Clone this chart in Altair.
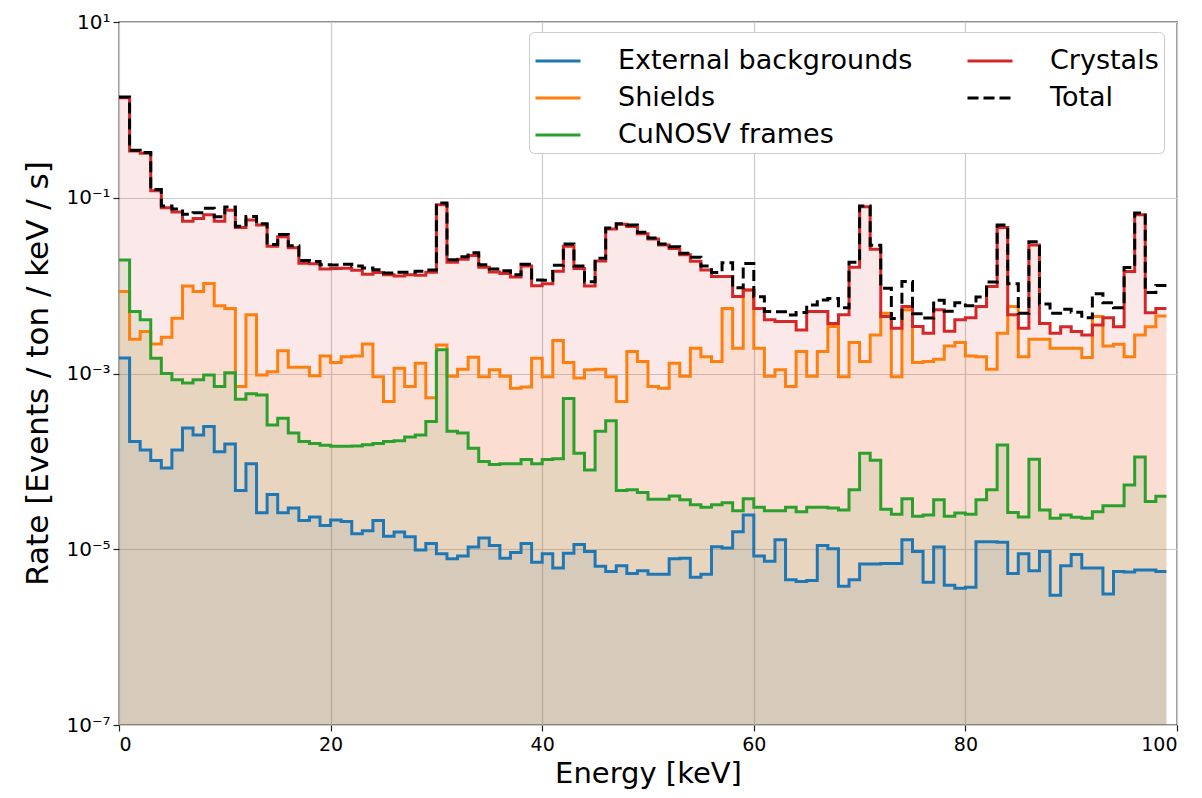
import altair as alt
import pandas as pd

# Energy bins: 1 keV wide, left edges 0..98 (last edge at 99 keV)
bin_left = list(range(0, 99))
bin_end = 99

external = [1.5e-3, 1.68e-4, 1.35e-4, 1.02e-4, 8.4e-5, 1.35e-4, 2.4e-4, 2.0e-4, 2.5e-4, 1.29e-4,
            1.58e-4, 4.65e-5, 9.4e-5, 2.6e-5, 4.2e-5, 2.6e-5, 2.95e-5, 2.12e-5, 2.33e-5, 1.86e-5,
            2.15e-5, 2.07e-5, 1.5e-5, 1.62e-5, 2.12e-5, 1.41e-5, 1.57e-5, 1.39e-5, 9.8e-6, 1.16e-5,
            8.9e-6, 7.8e-6, 8.4e-6, 1.06e-5, 1.34e-5, 1.1e-5, 7.9e-6, 9.2e-6, 1.16e-5, 7.1e-6,
            8.9e-6, 6.1e-6, 9.0e-6, 1.13e-5, 9.4e-6, 6.4e-6, 5.6e-6, 6.5e-6, 5.3e-6, 5.7e-6,
            5.2e-6, 5.2e-6, 7.8e-6, 7.9e-6, 4.8e-6, 5.2e-6, 1.07e-5, 1.03e-5, 1.58e-5, 2.45e-5,
            8.4e-6, 7.3e-6, 1.28e-5, 4.5e-6, 4.3e-6, 4.4e-6, 1.1e-5, 1.01e-5, 3.8e-6, 4.5e-6,
            6.8e-6, 6.8e-6, 6.9e-6, 6.9e-6, 1.28e-5, 9.4e-6, 4.2e-6, 1.06e-5, 3.9e-6, 3.6e-6,
            3.7e-6, 1.22e-5, 1.22e-5, 1.2e-5, 5.3e-6, 8.9e-6, 5.7e-6, 9.4e-6, 3.0e-6, 6.5e-6,
            8.7e-6, 6.1e-6, 6.1e-6, 3.1e-6, 5.6e-6, 5.5e-6, 5.8e-6, 5.8e-6, 5.6e-6]

shields = [8.55e-3, 2.45e-3, 3.0e-3, 2.17e-3, 2.59e-3, 4.25e-3, 9.9e-3, 8.55e-3, 1.06e-2, 5.9e-3,
           5.5e-3, 7.1e-4, 4.65e-3, 9.6e-4, 1.05e-3, 1.82e-3, 1.18e-3, 1.18e-3, 9.4e-4, 1.58e-3,
           1.33e-3, 1.55e-3, 1.58e-3, 2.17e-3, 9.2e-4, 4.8e-4, 1.15e-3, 7.1e-4, 1.31e-3, 5.3e-4,
           2.11e-3, 9.3e-4, 1.12e-3, 1.53e-3, 9.2e-4, 1.1e-3, 9.3e-4, 6.8e-4, 7.0e-4, 1.49e-3,
           9.2e-4, 2.37e-3, 1.33e-3, 8.9e-4, 1.1e-3, 1.12e-3, 9.2e-4, 4.8e-4, 1.78e-3, 1.37e-3,
           7.1e-4, 6.8e-4, 1.31e-3, 9.3e-4, 1.94e-3, 1.55e-3, 1.37e-3, 5.5e-3, 1.94e-3, 8.9e-3,
           1.94e-3, 9.3e-4, 1.1e-3, 7.1e-4, 1.78e-3, 9.3e-4, 1.78e-3, 3.42e-3, 9.2e-4, 2.25e-3,
           1.37e-3, 2.75e-3, 4.85e-3, 9.2e-4, 5.3e-3, 1.33e-3, 1.37e-3, 1.45e-3, 2.06e-3, 2.26e-3,
           1.58e-3, 1.55e-3, 1.12e-3, 2.88e-3, 5.8e-3, 1.55e-3, 2.45e-3, 2.45e-3, 1.94e-3, 1.94e-3,
           1.94e-3, 1.52e-3, 4.46e-3, 2.06e-3, 2.15e-3, 1.55e-3, 2.75e-3, 3.4e-3, 4.5e-3]

frames = [1.96e-2, 5.06e-3, 4.1e-3, 1.49e-3, 1.0e-3, 8.5e-4, 7.8e-4, 8.5e-4, 9.6e-4, 7.1e-4,
          1.02e-3, 5.1e-4, 5.9e-4, 5.7e-4, 2.6e-4, 3.1e-4, 2.1e-4, 1.68e-4, 1.6e-4, 1.53e-4,
          1.49e-4, 1.49e-4, 1.5e-4, 1.55e-4, 1.6e-4, 1.68e-4, 1.72e-4, 1.9e-4, 2.0e-4, 2.84e-4,
          1.86e-3, 2.2e-4, 2.1e-4, 1.41e-4, 1.0e-4, 9.2e-5, 9.4e-5, 9.4e-5, 1.05e-4, 9.4e-5,
          1.05e-4, 1.07e-4, 5.2e-4, 1.24e-4, 8.0e-5, 2.2e-4, 2.9e-4, 4.65e-5, 4.76e-5, 4.41e-5,
          3.71e-5, 3.71e-5, 4.03e-5, 3.66e-5, 3.2e-5, 3.01e-5, 3.2e-5, 3.38e-5, 2.74e-5, 3.75e-5,
          3.0e-5, 2.74e-5, 2.74e-5, 3.0e-5, 2.68e-5, 3.0e-5, 3.0e-5, 2.95e-5, 2.8e-5, 4.76e-5,
          1.24e-4, 1.03e-4, 2.85e-5, 2.51e-5, 3.75e-5, 2.38e-5, 2.45e-5, 3.65e-5, 2.38e-5, 2.59e-5,
          2.51e-5, 3.66e-5, 4.76e-5, 1.54e-4, 2.62e-5, 2.33e-5, 1.06e-4, 2.8e-5, 2.26e-5, 2.45e-5,
          2.32e-5, 2.26e-5, 2.68e-5, 3.12e-5, 3.12e-5, 5.4e-5, 1.12e-4, 3.49e-5, 4.0e-5]

crystals = [1.37, 0.34, 0.32, 0.12, 0.077, 0.069, 0.054, 0.058, 0.064, 0.054,
            0.072, 0.046, 0.056, 0.049, 0.028, 0.036, 0.027, 0.018, 0.0177, 0.0155,
            0.0157, 0.0158, 0.015, 0.0135, 0.0141, 0.0133, 0.0129, 0.0133, 0.0131, 0.0142,
            0.083, 0.0185, 0.020, 0.022, 0.0162, 0.0143, 0.0137, 0.0125, 0.0167, 0.0100,
            0.0105, 0.0146, 0.028, 0.0157, 0.0099, 0.0191, 0.044, 0.050, 0.047, 0.039,
            0.034, 0.029, 0.0264, 0.0224, 0.019, 0.0151, 0.0127, 0.0127, 0.0075, 0.0089,
            0.0055, 0.0041, 0.0039, 0.0039, 0.00313, 0.00506, 0.00506, 0.0037, 0.00465, 0.0162,
            0.079, 0.026, 0.00446, 0.00327, 0.00578, 0.00342, 0.00288, 0.0053, 0.00302, 0.0041,
            0.0043, 0.0058, 0.0098, 0.046, 0.00465, 0.00327, 0.029, 0.0037, 0.00288, 0.0034,
            0.0030, 0.00275, 0.00357, 0.0043, 0.0034, 0.0145, 0.064, 0.0049, 0.0055]

# Total rate is the sum of all contributions in each bin
total = [a + b + c + d for a, b, c, d in zip(external, shields, frames, crystals)]

series = {
    "External backgrounds": external,
    "Shields": shields,
    "CuNOSV frames": frames,
    "Crystals": crystals,
    "Total": total,
}
components = ["External backgrounds", "Shields", "CuNOSV frames", "Crystals"]
component_colors = ["#1f77b4", "#ff7f0e", "#2ca02c", "#d62728"]

# Legend entries fill the first column (three rows), then the second
legend_order = ["External backgrounds", "Shields", "CuNOSV frames", "Crystals", "Total"]
legend_colors = ["#1f77b4", "#ff7f0e", "#2ca02c", "#d62728", "#000000"]
legend_dashes = [[1, 0], [1, 0], [1, 0], [1, 0], [11, 5]]

y_ticks = [1e-7, 1e-5, 1e-3, 1e-1, 10]
y_tick_labels = ["10⁻⁷", "10⁻⁵", "10⁻³", "10⁻¹", "10¹"]
x_ticks = [0, 20, 40, 60, 80, 100]

rows = []
for name, vals in series.items():
    for e, v in zip(bin_left, vals):
        rows.append({"energy": e, "rate": v, "source": name})
    # closing point so the last step spans the final bin
    rows.append({"energy": bin_end, "rate": vals[-1], "source": name})
df = pd.DataFrame(rows)

label_expr = ""
for v, lab in zip(y_ticks[:-1], y_tick_labels[:-1]):
    label_expr += f"datum.value < {v * 3} ? '{lab}' : "
label_expr += f"'{y_tick_labels[-1]}'"

FONT = "DejaVu Sans"

x_enc = alt.X(
    "energy:Q",
    scale=alt.Scale(domain=[0, 100], nice=False),
    axis=alt.Axis(
        values=x_ticks, title="Energy [keV]", titleFontSize=29, titleFontWeight="normal",
        titleY=57, titleBaseline="alphabetic", labelFontSize=19, labelPadding=4,
    ),
)
y_enc = alt.Y(
    "rate:Q",
    stack=None,
    scale=alt.Scale(type="log", domain=[1e-7, 10], nice=False),
    axis=alt.Axis(
        values=y_ticks, labelExpr=label_expr, title="Rate [Events / ton / keV / s]",
        titleFontSize=31, titleFontWeight="normal", titleAngle=270, titleX=-72, titleY=351,
        titleAlign="center", titleBaseline="alphabetic", labelFontSize=20, labelPadding=3,
    ),
)

legend = alt.Legend(
    title=None, orient="none", legendX=410, legendY=10, direction="vertical", columns=2,
    columnPadding=48, rowPadding=-3, padding=5, labelOffset=36, labelFontSize=27, labelFont=FONT,
    labelLimit=500, symbolType="stroke", symbolSize=2025, symbolStrokeWidth=3, fillColor="white",
    strokeColor="#cccccc", cornerRadius=5,
)

stroke_enc = alt.Stroke("source:N", scale=alt.Scale(domain=legend_order, range=legend_colors), legend=legend)
dash_enc = alt.StrokeDash("source:N", scale=alt.Scale(domain=legend_order, range=legend_dashes), legend=legend)

base = alt.Chart(df)

fills = base.transform_filter(
    alt.FieldOneOfPredicate(field="source", oneOf=components)
).mark_area(interpolate="step-after", opacity=0.1).encode(
    x=x_enc,
    y=y_enc,
    y2=alt.datum(1e-7),
    fill=alt.Fill("source:N", scale=alt.Scale(domain=components, range=component_colors), legend=None),
)

component_lines = base.transform_filter(
    alt.FieldOneOfPredicate(field="source", oneOf=components)
).mark_line(interpolate="step-after", strokeWidth=3, clip=True).encode(
    x=x_enc, y=y_enc, stroke=stroke_enc, strokeDash=dash_enc,
)

total_line = base.transform_filter(
    alt.datum.source == "Total"
).mark_line(interpolate="step-after", strokeWidth=3, clip=True).encode(
    x=x_enc, y=y_enc, stroke=stroke_enc, strokeDash=dash_enc,
)

chart = alt.layer(fills, component_lines, total_line).properties(
    width=1058,
    height=703,
    padding={"left": 119, "top": 22, "right": 25, "bottom": 73},
    autosize=alt.AutoSizeParams(type="none"),
).configure(
    font=FONT,
).configure_view(
    stroke="#222222", strokeWidth=1.3,
).configure_axis(
    domain=False, grid=True, gridColor="#cccccc", gridWidth=1.2,
    tickColor="#222222", tickSize=6, tickWidth=1.2,
    labelColor="#000000", titleColor="#000000", labelFont=FONT, titleFont=FONT,
).configure_legend(
    labelColor="#000000",
)

chart.save("out.html", embed_options={"renderer": "svg", "actions": False})
